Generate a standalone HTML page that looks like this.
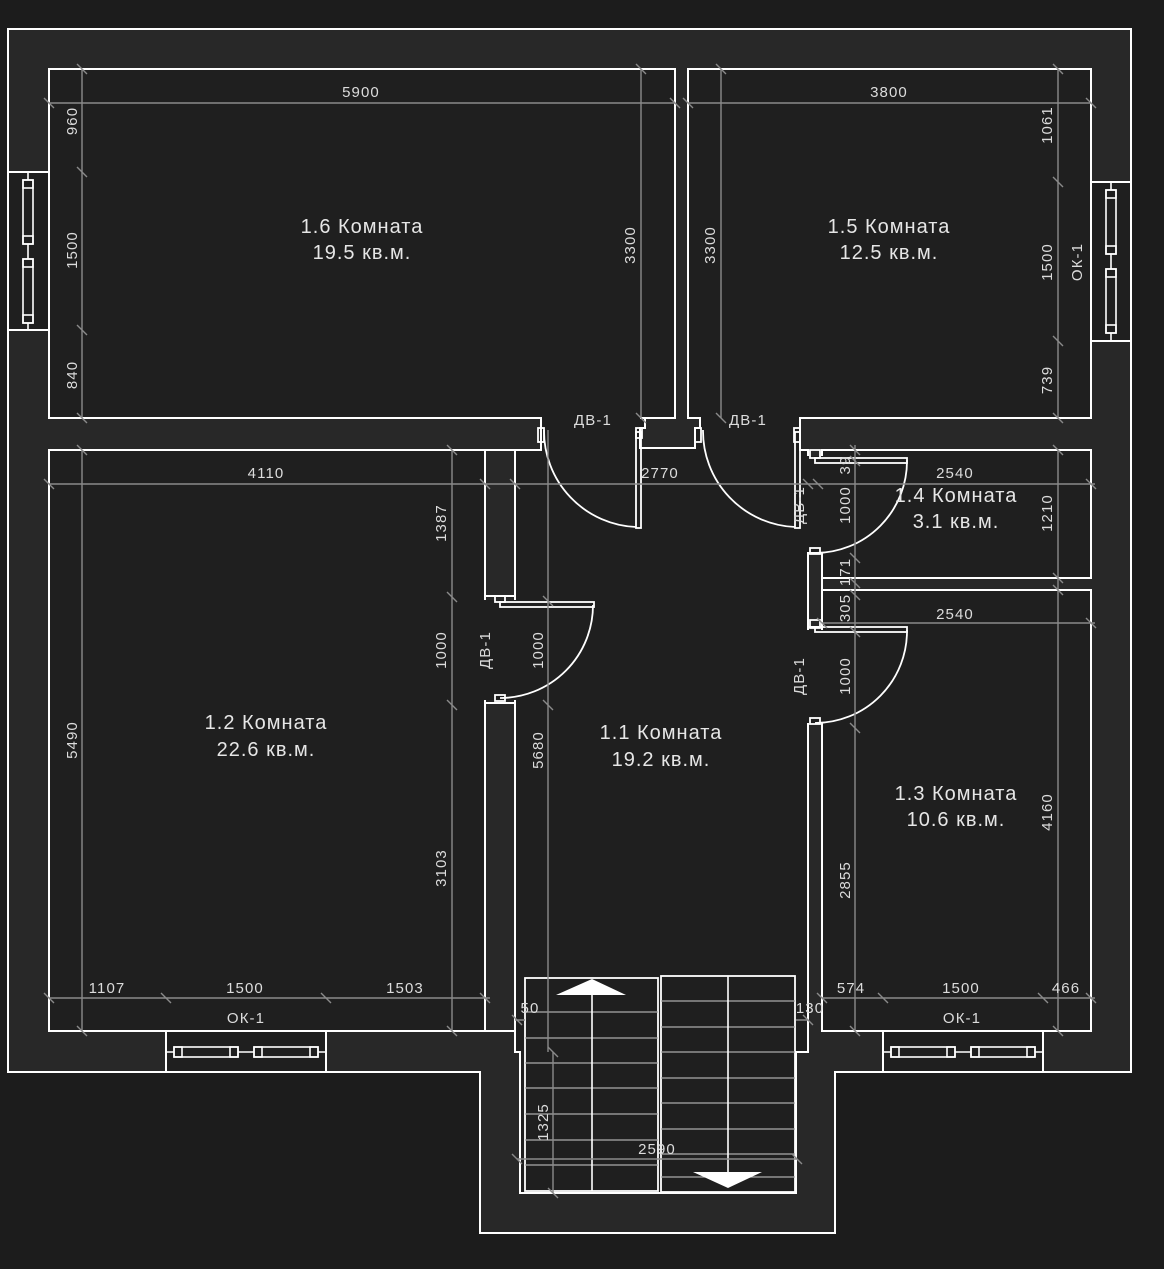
<!DOCTYPE html>
<html><head><meta charset="utf-8"><style>
html,body{margin:0;padding:0;background:#1c1c1c;}
svg{display:block}
text{font-family:"Liberation Sans","DejaVu Sans",sans-serif;fill:#e6e6e6}
.r{font-size:20px;text-anchor:middle;letter-spacing:1px}
.d{font-size:15px;text-anchor:middle;fill:#dcdcdc;letter-spacing:1.1px}
</style></head><body>
<svg width="1164" height="1269" viewBox="0 0 1164 1269" xmlns="http://www.w3.org/2000/svg">
<rect width="1164" height="1269" fill="#1c1c1c"/>
<path d="M8,29 H1131 V1072 H835 V1233 H480 V1072 H8 Z" fill="#282828" stroke="#fff" stroke-width="2"/>
<g fill="#1f1f1f" stroke="#fff" stroke-width="2">
<rect x="49" y="69" width="626" height="349"/>
<rect x="688" y="69" width="403" height="349"/>
<rect x="49" y="450" width="436" height="581"/>
<rect x="822" y="450" width="269" height="128"/>
<rect x="822" y="590" width="269" height="441"/>
<path d="M515,450 H541 V418 H645 V428 H640 V448 H695 V428 H700 V418 H800 V450 H808 V1052 H796 V1193 H520 V1052 H515 Z"/>
<rect x="8" y="172" width="41" height="158"/>
<rect x="1091" y="182" width="40" height="159"/>
<rect x="166" y="1031" width="160" height="41"/>
<rect x="883" y="1031" width="160" height="41"/>
</g>
<g fill="#1f1f1f">
<rect x="542" y="415" width="98" height="6"/>
<rect x="701" y="415" width="98" height="6"/>
<rect x="484" y="600" width="33" height="100"/>
<rect x="806" y="456" width="18" height="96"/>
<rect x="806" y="630" width="18" height="93"/>
</g>
<g fill="#282828" stroke="#fff" stroke-width="2">
<rect x="485" y="450" width="30" height="146"/>
<rect x="485" y="703" width="30" height="328"/>
<rect x="808" y="553" width="14" height="74"/>
</g>
<g fill="none" stroke="#fff" stroke-width="1.6">
<line x1="28" y1="172" x2="28" y2="330"/>
<rect x="23" y="180" width="10" height="64" fill="#1f1f1f"/><rect x="23" y="180" width="10" height="8"/><rect x="23" y="236" width="10" height="8"/>
<rect x="23" y="259" width="10" height="64" fill="#1f1f1f"/><rect x="23" y="259" width="10" height="8"/><rect x="23" y="315" width="10" height="8"/>
<line x1="1111" y1="182" x2="1111" y2="341"/>
<rect x="1106" y="190" width="10" height="64" fill="#1f1f1f"/><rect x="1106" y="190" width="10" height="8"/><rect x="1106" y="246" width="10" height="8"/>
<rect x="1106" y="269" width="10" height="64" fill="#1f1f1f"/><rect x="1106" y="269" width="10" height="8"/><rect x="1106" y="325" width="10" height="8"/>
<line x1="166" y1="1052" x2="326" y2="1052"/>
<rect x="174" y="1047" width="64" height="10" fill="#1f1f1f"/><rect x="174" y="1047" width="8" height="10"/><rect x="230" y="1047" width="8" height="10"/>
<rect x="254" y="1047" width="64" height="10" fill="#1f1f1f"/><rect x="254" y="1047" width="8" height="10"/><rect x="310" y="1047" width="8" height="10"/>
<line x1="883" y1="1052" x2="1043" y2="1052"/>
<rect x="891" y="1047" width="64" height="10" fill="#1f1f1f"/><rect x="891" y="1047" width="8" height="10"/><rect x="947" y="1047" width="8" height="10"/>
<rect x="971" y="1047" width="64" height="10" fill="#1f1f1f"/><rect x="971" y="1047" width="8" height="10"/><rect x="1027" y="1047" width="8" height="10"/>
</g>
<g fill="none" stroke="#fff" stroke-width="1.8">
<path d="M544,430 A96,96 0 0 0 636,527"/>
<rect x="636" y="432" width="5" height="96"/>
<rect x="538" y="428" width="6" height="14"/><rect x="636" y="428" width="6" height="10"/>
<path d="M703,430 A96,96 0 0 0 795,527"/>
<rect x="795" y="432" width="5" height="96"/>
<rect x="695" y="428" width="6" height="14"/><rect x="794" y="428" width="6" height="14"/>
<path d="M593,605 A93,93 0 0 1 500,698"/>
<rect x="500" y="602" width="94" height="5"/>
<rect x="495" y="596" width="10" height="6"/><rect x="495" y="695" width="10" height="6"/>
<path d="M907,460 A92,92 0 0 1 815,553"/>
<rect x="815" y="458" width="92" height="5"/>
<rect x="810" y="450" width="10" height="8"/><rect x="810" y="548" width="10" height="6"/>
<path d="M907,630 A92,92 0 0 1 815,723"/>
<rect x="815" y="627" width="92" height="5"/>
<rect x="810" y="620" width="10" height="8"/><rect x="810" y="718" width="10" height="6"/>
</g>
<g fill="#1f1f1f" stroke="#fff" stroke-width="1.8">
<rect x="525" y="978" width="133" height="213"/>
<rect x="661" y="976" width="134" height="216"/>
</g>
<g stroke="#aaa" stroke-width="1.3" fill="none">
<path d="M525,1012 H658 M525,1038 H658 M525,1063 H658 M525,1088 H658 M525,1114 H658 M525,1140 H658 M525,1165 H658
M661,1001 H795 M661,1027 H795 M661,1052 H795 M661,1078 H795 M661,1103 H795 M661,1129 H795 M661,1154 H795 M661,1177 H795"/>
</g>
<g stroke="#fff" stroke-width="1.6">
<line x1="592" y1="993" x2="592" y2="1191"/>
<line x1="728" y1="976" x2="728" y2="1175"/>
</g>
<polygon points="556,995 592,979 626,995" fill="#fff"/>
<polygon points="693,1172 762,1172 728,1188" fill="#fff"/>
<g stroke="#8a8a8a" stroke-width="1.4" fill="none">
<path d="M49,103 H675 M688,103 H1091 M82,69 V418 M641,69 V418 M721,69 V418 M1058,69 V418
M49,484 H1095 M82,450 V1031 M452,450 V1031 M548,430 V1052 M855,445 V1031 M1058,450 V1031
M49,998 H490 M822,998 H1095 M822,623 H1095 M1058,590 V1031 M517,1159 H797 M553,1052 V1193 M796,1020 H808 M515,1020 H525"/>
<path d="M77,64 l10,10 M44,98 l10,10 M670,98 l10,10 M683,98 l10,10 M1086,98 l10,10 M77,167 l10,10 M77,325 l10,10 M77,413 l10,10
M636,64 l10,10 M636,413 l10,10 M716,64 l10,10 M716,413 l10,10 M1053,64 l10,10 M1053,177 l10,10 M1053,336 l10,10 M1053,413 l10,10
M44,479 l10,10 M480,479 l10,10 M510,479 l10,10 M803,479 l10,10 M813,479 l10,10 M1086,479 l10,10
M447,445 l10,10 M447,592 l10,10 M447,700 l10,10 M447,1026 l10,10 M77,445 l10,10 M77,1026 l10,10
M543,596 l10,10 M543,700 l10,10 M850,445 l10,10 M850,456 l10,10 M850,553 l10,10 M850,578 l10,10 M850,590 l10,10 M850,627 l10,10 M850,723 l10,10 M850,1026 l10,10
M1053,445 l10,10 M1053,573 l10,10 M1053,585 l10,10 M1053,1026 l10,10 M817,618 l10,10 M1086,618 l10,10
M44,993 l10,10 M161,993 l10,10 M321,993 l10,10 M480,993 l10,10 M817,993 l10,10 M878,993 l10,10 M1038,993 l10,10 M1086,993 l10,10
M512,1154 l10,10 M792,1154 l10,10 M548,1047 l10,10 M548,1188 l10,10 M512,1015 l10,10 M803,1015 l10,10"/>
</g>
<text class="r" x="362" y="233">1.6 Комната</text><text class="r" x="362" y="259">19.5 кв.м.</text>
<text class="r" x="889" y="233">1.5 Комната</text><text class="r" x="889" y="259">12.5 кв.м.</text>
<text class="r" x="266" y="729">1.2 Комната</text><text class="r" x="266" y="756">22.6 кв.м.</text>
<text class="r" x="661" y="739">1.1 Комната</text><text class="r" x="661" y="766">19.2 кв.м.</text>
<text class="r" x="956" y="502">1.4 Комната</text><text class="r" x="956" y="528">3.1 кв.м.</text>
<text class="r" x="956" y="800">1.3 Комната</text><text class="r" x="956" y="826">10.6 кв.м.</text>
<text class="d" x="361" y="97">5900</text>
<text class="d" x="889" y="97">3800</text>
<text class="d" x="266" y="478">4110</text>
<text class="d" x="660" y="478">2770</text>
<text class="d" x="955" y="478">2540</text>
<text class="d" x="955" y="619">2540</text>
<text class="d" x="107" y="993">1107</text>
<text class="d" x="245" y="993">1500</text>
<text class="d" x="405" y="993">1503</text>
<text class="d" x="246" y="1023">ОК-1</text>
<text class="d" x="851" y="993">574</text>
<text class="d" x="961" y="993">1500</text>
<text class="d" x="1066" y="993">466</text>
<text class="d" x="962" y="1023">ОК-1</text>
<text class="d" x="593" y="425">ДВ-1</text>
<text class="d" x="748" y="425">ДВ-1</text>
<text class="d" x="530" y="1013">50</text>
<text class="d" x="810" y="1013">130</text>
<text class="d" x="657" y="1154">2590</text>
<g>
<text class="d" transform="translate(77,121) rotate(-90)">960</text>
<text class="d" transform="translate(77,250) rotate(-90)">1500</text>
<text class="d" transform="translate(77,375) rotate(-90)">840</text>
<text class="d" transform="translate(635,245) rotate(-90)">3300</text>
<text class="d" transform="translate(715,245) rotate(-90)">3300</text>
<text class="d" transform="translate(1052,125) rotate(-90)">1061</text>
<text class="d" transform="translate(1052,262) rotate(-90)">1500</text>
<text class="d" transform="translate(1052,380) rotate(-90)">739</text>
<text class="d" transform="translate(1082,262) rotate(-90)">ОК-1</text>
<text class="d" transform="translate(446,523) rotate(-90)">1387</text>
<text class="d" transform="translate(446,650) rotate(-90)">1000</text>
<text class="d" transform="translate(446,868) rotate(-90)">3103</text>
<text class="d" transform="translate(77,740) rotate(-90)">5490</text>
<text class="d" transform="translate(543,650) rotate(-90)">1000</text>
<text class="d" transform="translate(543,750) rotate(-90)">5680</text>
<text class="d" transform="translate(490,650) rotate(-90)">ДВ-1</text>
<text class="d" transform="translate(804,505) rotate(-90)">ДВ-1</text>
<text class="d" transform="translate(804,676) rotate(-90)">ДВ-1</text>
<text class="d" transform="translate(850,465) rotate(-90)">39</text>
<text class="d" transform="translate(850,505) rotate(-90)">1000</text>
<text class="d" transform="translate(850,572) rotate(-90)">171</text>
<text class="d" transform="translate(850,608) rotate(-90)">305</text>
<text class="d" transform="translate(850,676) rotate(-90)">1000</text>
<text class="d" transform="translate(850,880) rotate(-90)">2855</text>
<text class="d" transform="translate(1052,513) rotate(-90)">1210</text>
<text class="d" transform="translate(1052,812) rotate(-90)">4160</text>
<text class="d" transform="translate(548,1122) rotate(-90)">1325</text>
</g>
</svg>
</body></html>
